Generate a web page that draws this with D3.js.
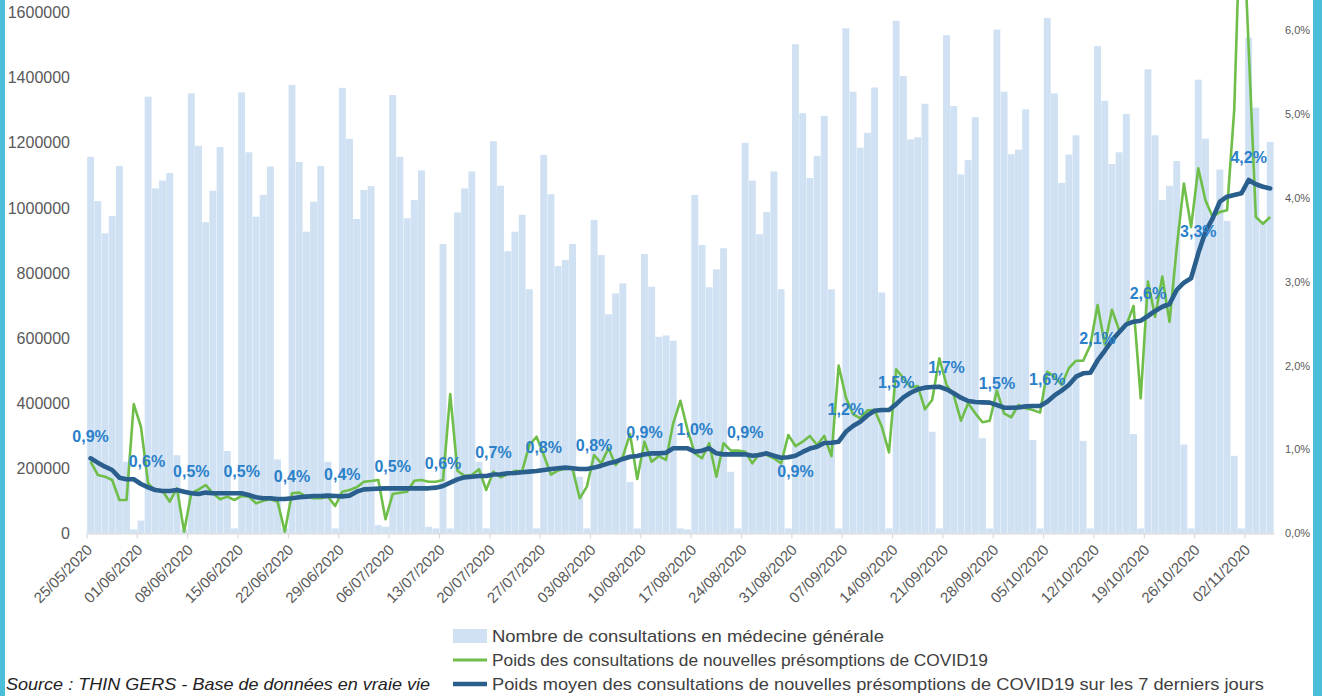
<!DOCTYPE html>
<html><head><meta charset="utf-8">
<script src="https://cdn.jsdelivr.net/npm/d3@7"></script>
<style>html,body{margin:0;padding:0;background:#fff;overflow:hidden}</style>
</head><body><svg id="c" width="1322" height="696"></svg>
<script>
// Nombre de consultations en médecine générale (daily, 25/05/2020 -> 05/11/2020)
const consultations = [
 1157000,1021000,922000,975000,1129000,220000,12000,
 39000,1342000,1060000,1084000,1107000,240000,12000,
 1352000,1191000,956000,1053000,1187000,253000,15000,
 1355000,1171000,973000,1040000,1127000,227000,15000,
 1378000,1141000,927000,1019000,1129000,220000,15000,
 1369000,1212000,966000,1055000,1067000,25000,20000,
 1347000,1157000,968000,1024000,1115000,20000,15000,
 889000,15000,986000,1060000,1112000,220000,15000,
 1205000,1068000,867000,927000,979000,750000,15000,
 1163000,1042000,821000,840000,889000,174000,15000,
 963000,855000,673000,737000,768000,158000,15000,
 858000,758000,604000,608000,592000,15000,12000,
 1040000,886000,756000,811000,876000,189000,15000,
 1200000,1084000,919000,987000,1112000,750000,15000,
 1503000,1291000,1092000,1160000,1283000,750000,15000,
 1552000,1357000,1185000,1231000,1370000,740000,15000,
 1575000,1405000,1211000,1217000,1320000,312000,15000,
 1531000,1313000,1103000,1147000,1279000,292000,15000,
 1548000,1357000,1165000,1179000,1303000,287000,15000,
 1584000,1352000,1077000,1164000,1223000,284000,15000,
 1497000,1329000,1135000,1171000,1289000,305000,15000,
 1426000,1223000,1024000,1068000,1144000,273000,15000,
 1394000,1213000,980000,1118000,960000,238000,15000,
 1523000,1308000,960000,1203000
];
// Poids des consultations de nouvelles présomptions de COVID19 (%)
const poidsJour = [
 0.853,0.695,0.675,0.635,0.397,0.397,1.54,
 1.27,0.596,0.508,0.508,0.377,0.536,0.02,
 0.477,0.52,0.576,0.477,0.405,0.437,0.397,
 0.445,0.437,0.357,0.389,0.405,0.377,0.02,
 0.477,0.485,0.437,0.417,0.417,0.437,0.325,
 0.496,0.516,0.548,0.615,0.623,0.635,0.167,
 0.468,0.484,0.496,0.627,0.635,0.615,0.615,
 0.635,1.66,0.745,0.685,0.695,0.763,0.516,
 0.734,0.667,0.703,0.742,0.742,1.052,1.151,
 0.933,0.699,0.75,0.77,0.77,0.417,0.556,
 0.933,0.834,1.013,0.814,0.913,1.184,0.647,
 1.092,0.853,0.92,0.874,1.311,1.58,1.232,
 0.953,0.894,1.073,0.675,1.073,0.985,0.985,
 0.973,0.834,0.953,0.933,0.894,0.834,1.172,
 1.04,1.092,1.16,1.052,1.16,0.921,2.0,
 1.62,1.42,1.37,1.465,1.47,1.27,0.965,
 1.955,1.85,1.74,1.756,1.478,1.589,2.086,
 1.768,1.648,1.342,1.549,1.43,1.323,1.342,
 1.7,1.43,1.383,1.529,1.49,1.47,1.438,
 1.926,1.867,1.768,1.967,2.057,2.057,2.244,
 2.72,2.25,2.665,2.42,2.48,2.71,1.609,
 3.0,2.58,3.06,2.52,3.4,4.17,3.65,
 4.35,3.97,3.77,3.83,3.85,5.05,7.8,
 5.8,3.77,3.69,3.77
];
// Poids moyen des consultations de nouvelles présomptions de COVID19 sur les 7 derniers jours (%)
const poidsMoyen7j = [
 0.894,0.842,0.794,0.754,0.663,0.644,0.644,
 0.588,0.548,0.516,0.504,0.504,0.516,0.496,
 0.477,0.469,0.485,0.477,0.477,0.477,0.477,
 0.477,0.457,0.429,0.417,0.417,0.409,0.409,
 0.417,0.429,0.437,0.445,0.445,0.449,0.445,
 0.44,0.449,0.496,0.524,0.528,0.532,0.536,
 0.536,0.536,0.536,0.536,0.536,0.536,0.544,
 0.564,0.603,0.643,0.667,0.675,0.683,0.683,
 0.70,0.703,0.715,0.719,0.727,0.735,0.743,
 0.755,0.767,0.775,0.783,0.775,0.767,0.767,
 0.783,0.806,0.834,0.854,0.886,0.913,0.921,
 0.941,0.953,0.953,0.961,1.013,1.013,1.013,
 0.973,0.985,1.013,0.953,0.941,0.941,0.941,
 0.941,0.925,0.933,0.953,0.925,0.901,0.906,
 0.925,0.97,1.01,1.032,1.076,1.08,1.092,
 1.21,1.28,1.33,1.405,1.46,1.47,1.47,
 1.54,1.62,1.675,1.716,1.736,1.744,1.747,
 1.716,1.669,1.616,1.577,1.565,1.561,1.557,
 1.529,1.497,1.497,1.5,1.513,1.517,1.517,
 1.569,1.643,1.70,1.768,1.867,1.907,1.914,
 2.06,2.175,2.30,2.397,2.491,2.522,2.534,
 2.59,2.65,2.70,2.733,2.9,2.987,3.04,
 3.337,3.595,3.754,3.952,4.012,4.032,4.052,
 4.211,4.16,4.13,4.11
];
const tickLabels = ["25/05/2020","01/06/2020","08/06/2020","15/06/2020","22/06/2020","29/06/2020",
 "06/07/2020","13/07/2020","20/07/2020","27/07/2020","03/08/2020","10/08/2020","17/08/2020",
 "24/08/2020","31/08/2020","07/09/2020","14/09/2020","21/09/2020","28/09/2020","05/10/2020",
 "12/10/2020","19/10/2020","26/10/2020","02/11/2020"];
const leftTicks = [0,200000,400000,600000,800000,1000000,1200000,1400000,1600000];
const rightTicks = [0,1,2,3,4,5,6];
const legendLabels = ["Nombre de consultations en médecine générale",
 "Poids des consultations de nouvelles présomptions de COVID19",
 "Poids moyen des consultations de nouvelles présomptions de COVID19 sur les 7 derniers jours"];
const sourceText = "Source : THIN GERS - Base de données en vraie vie";
const categories = d3.timeDay.range(new Date(2020,4,25), new Date(2020,10,6)).map(d3.timeFormat("%d/%m/%Y"));

const C = {bar:"#CFE1F2", green:"#6FBE4A", blue:"#2A5F8D", label:"#2B80C9", axis:"#595959", grid:"#D9D9D9", border:"#4BBFDA"};
const svg = d3.select("#c");
svg.append("defs").append("clipPath").attr("id","clip").append("rect").attr("x",0).attr("y",0).attr("width",1322).attr("height",696);

const x = d3.scaleBand().domain(categories).range([87, 1273.8]).padding(0);
const bw = x.bandwidth();
const yL = d3.scaleLinear().domain([0, 1800000]).range([533.3, -52.4]);
const yR = d3.scaleLinear().domain([0, 7]).range([533.3, -54]);
const cx = d => x(d) + bw/2;
const fmtPct = v => d3.format(".1f")(v).replace(".", ",") + "%";

const plot = svg.append("g").attr("clip-path","url(#clip)");
// bars
plot.append("g").selectAll("rect").data(categories).join("rect")
  .attr("x", d => x(d) + 0.15).attr("width", bw - 0.3)
  .attr("y", (d,i) => yL(consultations[i])).attr("height", (d,i) => yL(0) - yL(consultations[i]))
  .attr("fill", C.bar);

// axes
const gL = svg.append("g").attr("transform","translate(73,0)")
  .call(d3.axisLeft(yL).tickValues(leftTicks).tickSize(0).tickPadding(3).tickFormat(d3.format("d")));
gL.select(".domain").remove();
gL.selectAll("text").attr("font-family","Liberation Sans, Arial, sans-serif").attr("font-size",16).attr("fill",C.axis);

const gR = svg.append("g").attr("transform","translate(1282,0)")
  .call(d3.axisRight(yR).tickValues(rightTicks).tickSize(0).tickPadding(3).tickFormat(fmtPct));
gR.select(".domain").remove();
gR.selectAll("text").attr("font-family","Liberation Sans, Arial, sans-serif").attr("font-size",11).attr("fill",C.axis);

const gB = svg.append("g").attr("transform","translate(0,533.3)")
  .call(d3.axisBottom(x).tickValues(tickLabels).tickSize(5).tickSizeOuter(0));
gB.select(".domain").attr("stroke",C.grid).attr("stroke-width",1.2);
gB.selectAll(".tick line").attr("stroke",C.grid).attr("stroke-width",1.2).attr("transform",`translate(${-bw/2},0)`);
gB.selectAll(".tick text").attr("x",0).attr("y",0).attr("dy",0)
  .attr("text-anchor","end").attr("transform","translate(2.5,17.5) rotate(-45)")
  .attr("font-family","Liberation Sans, Arial, sans-serif").attr("font-size",15).attr("fill",C.axis);

// lines
const lineG = d3.line().x((d,i) => cx(categories[i])).y(d => yR(d));
plot.append("path").datum(poidsJour).attr("d", lineG).attr("fill","none")
  .attr("stroke",C.green).attr("stroke-width",2.6).attr("stroke-linejoin","round");
plot.append("path").datum(poidsMoyen7j).attr("d", lineG).attr("fill","none")
  .attr("stroke",C.blue).attr("stroke-width",4.6).attr("stroke-linejoin","round").attr("stroke-linecap","round");

// data labels on weekly points
const below = new Set(["31/08/2020"]);
const nudge = {"01/06/2020": 6};
svg.append("g").selectAll("text").data(tickLabels).join("text")
  .attr("x", d => cx(d) + (nudge[d] || 0))
  .attr("y", d => { const v = poidsMoyen7j[categories.indexOf(d)]; return below.has(d) ? yR(v) + 21.5 : yR(v) - 16.5; })
  .attr("text-anchor","middle").attr("font-family","Liberation Sans, Arial, sans-serif")
  .attr("font-size",16).attr("font-weight","bold").attr("fill",C.label)
  .text(d => fmtPct(poidsMoyen7j[categories.indexOf(d)]));

// legend
const lg = svg.append("g");
const rows = [636, 660, 684];
const widths = [392, 496, 772];
lg.append("rect").attr("x",453).attr("y",rows[0]-7).attr("width",34).attr("height",14).attr("fill",C.bar);
lg.append("line").attr("x1",453).attr("x2",487).attr("y1",rows[1]).attr("y2",rows[1]).attr("stroke",C.green).attr("stroke-width",3);
lg.append("line").attr("x1",453).attr("x2",487).attr("y1",rows[2]).attr("y2",rows[2]).attr("stroke",C.blue).attr("stroke-width",4.5);
lg.selectAll("text").data(legendLabels).join("text")
  .attr("x",492).attr("y",(d,i)=>rows[i]+6)
  .attr("textLength",(d,i)=>widths[i]).attr("lengthAdjust","spacingAndGlyphs")
  .attr("font-family","Liberation Sans, Arial, sans-serif").attr("font-size",17).attr("fill","#404040")
  .text(d=>d);
svg.append("text").attr("x",6).attr("y",690).attr("textLength",424).attr("lengthAdjust","spacingAndGlyphs")
  .attr("font-family","Liberation Sans, Arial, sans-serif").attr("font-size",17).attr("font-style","italic").attr("fill","#222")
  .text(sourceText);

// side borders
svg.append("rect").attr("x",0).attr("y",0).attr("width",5).attr("height",696).attr("fill",C.border);
svg.append("rect").attr("x",1313).attr("y",0).attr("width",9).attr("height",696).attr("fill",C.border);
</script>
</body></html>
